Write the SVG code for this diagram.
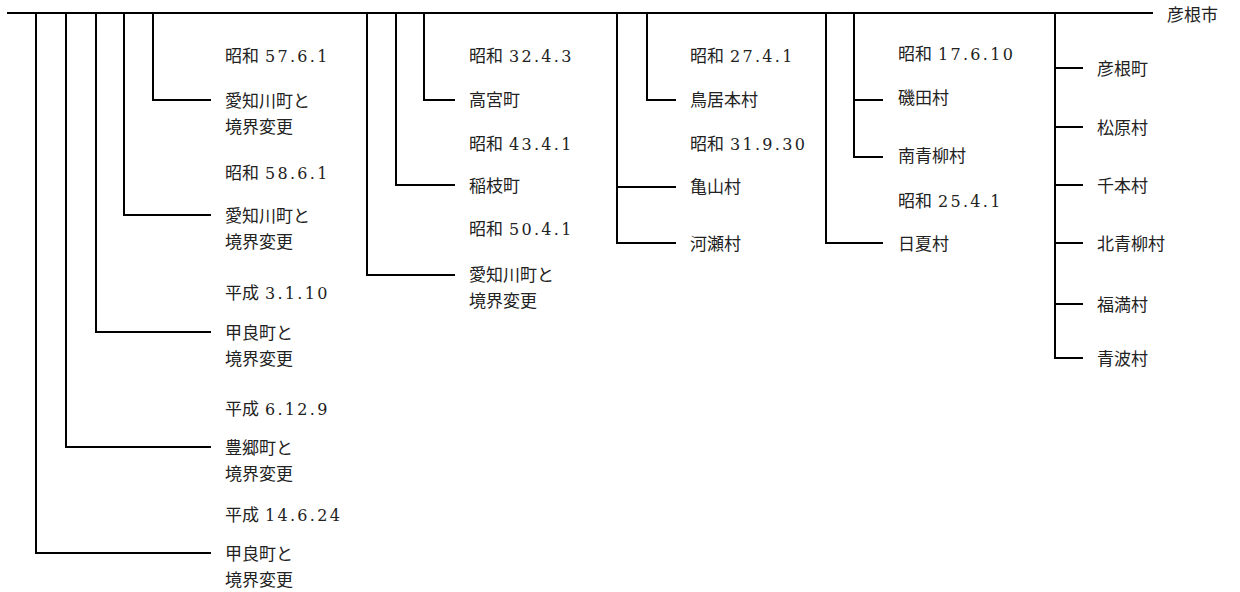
<svg xmlns="http://www.w3.org/2000/svg" width="1240" height="592" viewBox="0 0 1240 592">
<style>
.c{fill:none;stroke:#000;stroke-width:2}
text{font-family:"Liberation Serif","Noto Sans CJK JP",serif;font-size:17px;fill:#222}
.n{font-family:"DejaVu Serif",serif;font-size:16px;letter-spacing:2.3px}
</style>
<rect width="1240" height="592" fill="#fff"/>
<g id="connectors">
<path class="c" d="M7 13H1153"/>
<path class="c" d="M153 13V100H211"/>
<path class="c" d="M124 13V215H211"/>
<path class="c" d="M96 13V332H211"/>
<path class="c" d="M66 13V447H211"/>
<path class="c" d="M36 13V553H211"/>
<path class="c" d="M424 13V100H455"/>
<path class="c" d="M396 13V185H455"/>
<path class="c" d="M367 13V275H455"/>
<path class="c" d="M647 13V100H676"/>
<path class="c" d="M617 13V243H676M617 187H676"/>
<path class="c" d="M854 13V157H883M854 100H883"/>
<path class="c" d="M826 13V243H883"/>
<path class="c" d="M1055 13V358H1083M1055 68H1083M1055 127H1083M1055 185H1083M1055 243H1083M1055 304H1083"/>
</g>
<g id="root"><text x="1167" y="21">彦根市</text></g>
<g id="g1">
<text x="225" y="62">昭和<tspan class="n" x="265">57.6.1</tspan></text>
<text x="225" y="107">愛知川町と</text><text x="225" y="133">境界変更</text>
<text x="225" y="179">昭和<tspan class="n" x="265">58.6.1</tspan></text>
<text x="225" y="222">愛知川町と</text><text x="225" y="248">境界変更</text>
<text x="225" y="299">平成<tspan class="n" x="265">3.1.10</tspan></text>
<text x="225" y="339">甲良町と</text><text x="225" y="365">境界変更</text>
<text x="225" y="415">平成<tspan class="n" x="265">6.12.9</tspan></text>
<text x="225" y="454">豊郷町と</text><text x="225" y="480">境界変更</text>
<text x="225" y="521">平成<tspan class="n" x="265">14.6.24</tspan></text>
<text x="225" y="560">甲良町と</text><text x="225" y="586">境界変更</text>
</g>
<g id="g2">
<text x="469" y="62">昭和<tspan class="n" x="509">32.4.3</tspan></text>
<text x="469" y="106">高宮町</text>
<text x="469" y="150">昭和<tspan class="n" x="509">43.4.1</tspan></text>
<text x="469" y="192">稲枝町</text>
<text x="469" y="235">昭和<tspan class="n" x="509">50.4.1</tspan></text>
<text x="469" y="281">愛知川町と</text><text x="469" y="307">境界変更</text>
</g>
<g id="g3">
<text x="690" y="62">昭和<tspan class="n" x="730">27.4.1</tspan></text>
<text x="690" y="106">鳥居本村</text>
<text x="690" y="150">昭和<tspan class="n" x="730">31.9.30</tspan></text>
<text x="690" y="193">亀山村</text>
<text x="690" y="250">河瀬村</text>
</g>
<g id="g4">
<text x="898" y="60">昭和<tspan class="n" x="938">17.6.10</tspan></text>
<text x="898" y="104">磯田村</text>
<text x="898" y="162">南青柳村</text>
<text x="898" y="207">昭和<tspan class="n" x="938">25.4.1</tspan></text>
<text x="898" y="250">日夏村</text>
</g>
<g id="g5">
<text x="1097" y="75">彦根町</text>
<text x="1097" y="134">松原村</text>
<text x="1097" y="192">千本村</text>
<text x="1097" y="250">北青柳村</text>
<text x="1097" y="311">福満村</text>
<text x="1097" y="365">青波村</text>
</g>
</svg>
